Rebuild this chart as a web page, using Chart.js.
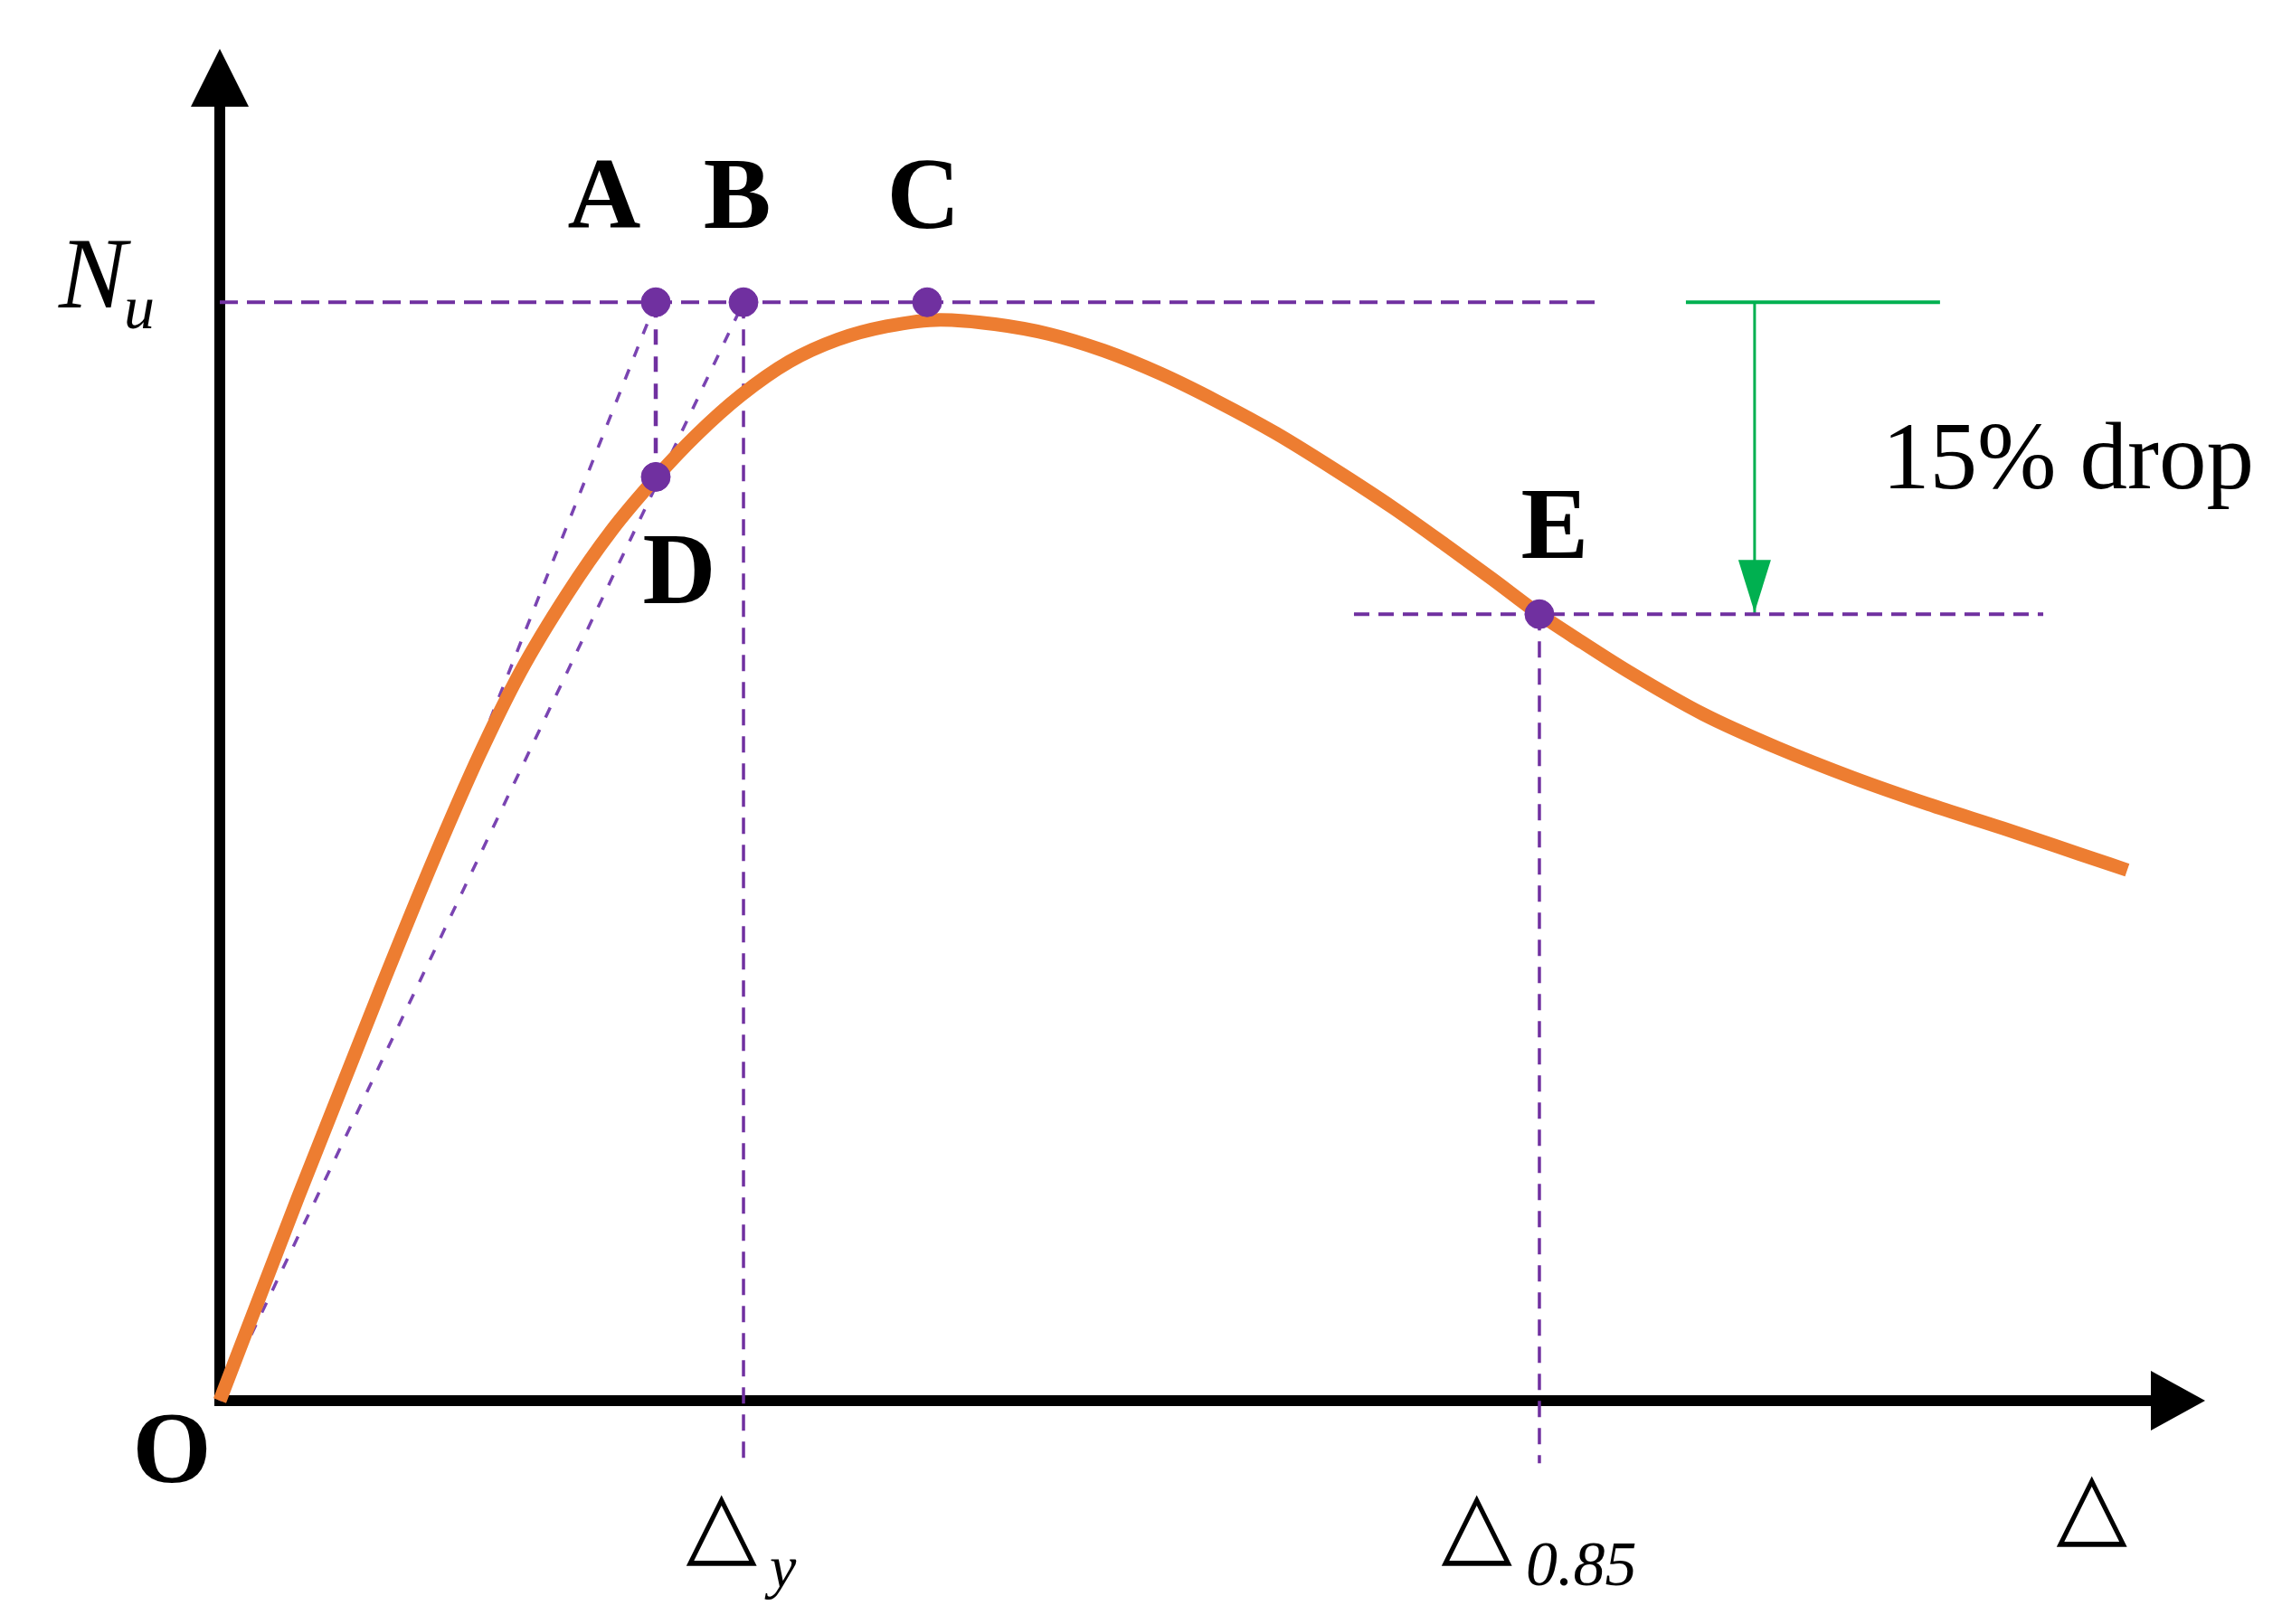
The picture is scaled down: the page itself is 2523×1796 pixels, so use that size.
<!DOCTYPE html>
<html>
<head>
<meta charset="utf-8">
<script src="https://cdn.jsdelivr.net/npm/chart.js@4.4.1/dist/chart.umd.min.js"></script>
<style>
  html, body { margin: 0; padding: 0; background: #fff; }
  #wrap { width: 2523px; height: 1796px; position: relative; }
</style>
</head>
<body>
<div id="wrap"><canvas id="chart"></canvas></div>
<script>
// ---- data (x = displacement, y = N / Nu) ----
const curveX = [0, 0.396, 0.806, 1.08, 1.308, 1.513, 1.749, 1.973, 2.196, 2.401, 2.624, 2.87, 3.112, 3.358,
  3.631, 3.904, 4.178, 4.451, 4.738, 5.021, 5.317, 5.613, 5.909, 6.182, 6.41, 6.647, 6.866, 7.093,
  7.472, 7.85, 8.228, 8.606, 8.984, 9.362, 9.608];
const curveY = [0, 0.186, 0.373, 0.494, 0.588, 0.663, 0.734, 0.792, 0.84, 0.879, 0.915, 0.946, 0.966, 0.978,
  0.984, 0.98, 0.971, 0.956, 0.935, 0.91, 0.881, 0.848, 0.813, 0.778, 0.748, 0.716, 0.69, 0.664,
  0.625, 0.594, 0.567, 0.543, 0.521, 0.498, 0.483];

const pointNames = ['A', 'B', 'C', 'D', 'E'];
const pointX = [2.196, 2.638, 3.563, 2.196, 6.647];
const pointY = [1, 1, 1, 0.841, 0.716];

const nuLevel = 1;          // Nu
const dropLevel = 0.716;    // level of point E
const deltaY = 2.638;       // Δy
const delta85 = 6.647;      // Δ0.85
const nuLineEnd = 6.929;
const dropLineX = [5.713, 9.185];
const greenBarX = [7.385, 8.665];
const greenArrowX = 7.731;
const belowAxis = -0.057;   // dashed verticals run a bit under the x axis
const xAxisEnd = 9.727;
const yAxisEnd = 1.178;

const PURPLE = '#7030A0';
const ORANGE = '#ED7D31';
const GREEN = '#00B050';

const pts = (xs, ys) => xs.map((v, i) => ({ x: v, y: ys[i] }));

function dashed(data, width, dash, color) {
  return {
    data, showLine: true, borderColor: color || PURPLE, borderWidth: width,
    borderDash: dash, pointRadius: 0, clip: false, order: 2
  };
}

const datasets = [
  dashed(pts([0, nuLineEnd], [nuLevel, nuLevel]), 4, [20, 10]),
  dashed(pts([0, pointX[0]], [0, nuLevel]), 3.5, [12, 15], '#7a44b2'),
  dashed(pts([0, pointX[1]], [0, nuLevel]), 3.5, [12, 15], '#7a44b2'),
  dashed(pts([pointX[0], pointX[3]], [nuLevel, pointY[3]]), 4.5, [17, 13]),
  dashed(pts([deltaY, deltaY], [nuLevel, belowAxis]), 3.5, [18, 12]),
  dashed(pts([delta85, delta85], [dropLevel, belowAxis]), 3.5, [18, 12]),
  dashed(pts(dropLineX, [dropLevel, dropLevel]), 4, [17, 10]),
  {
    data: pts(greenBarX, [nuLevel, nuLevel]), showLine: true, borderColor: GREEN,
    borderWidth: 4, pointRadius: 0, clip: false, order: 2
  },
  {
    data: pts([greenArrowX, greenArrowX], [nuLevel, dropLevel]), showLine: true, borderColor: GREEN,
    borderWidth: 3, pointRadius: 0, clip: false, order: 2
  },
  {
    data: pts(curveX, curveY), showLine: true, borderColor: ORANGE, borderWidth: 15,
    cubicInterpolationMode: 'monotone', pointRadius: 0, clip: false, order: 1
  },
  {
    data: pts(pointX, pointY), showLine: false, backgroundColor: PURPLE, borderColor: PURPLE,
    borderWidth: 1, pointRadius: 16, clip: false, order: 0
  }
];

function tri(ctx, a, b, c) {
  ctx.beginPath();
  ctx.moveTo(a[0], a[1]);
  ctx.lineTo(b[0], b[1]);
  ctx.lineTo(c[0], c[1]);
  ctx.closePath();
  ctx.fill();
}

// draw text so that its ink is centred on cx and its ink bottom sits at bottom
function inkCentered(ctx, text, cx, bottom) {
  const m = ctx.measureText(text);
  const w = m.actualBoundingBoxRight + m.actualBoundingBoxLeft;
  ctx.textAlign = 'left';
  ctx.fillText(text, cx - w / 2 + m.actualBoundingBoxLeft, bottom - m.actualBoundingBoxDescent);
}
// ink left edge at lx, on given baseline
function inkLeft(ctx, text, lx, base) {
  const m = ctx.measureText(text);
  ctx.textAlign = 'left';
  ctx.fillText(text, lx + m.actualBoundingBoxLeft, base);
}

const overlay = {
  id: 'overlay',
  afterDatasetsDraw(chart) {
    const { ctx, chartArea, scales: { x, y } } = chart;
    const X = v => x.getPixelForValue(v);
    const Y = v => y.getPixelForValue(v);
    const ox = X(0), oy = Y(0);
    ctx.save();

    // axis arrow heads
    ctx.fillStyle = '#000';
    tri(ctx, [ox, chartArea.top - 64], [ox - 32, chartArea.top], [ox + 32, chartArea.top]);
    tri(ctx, [chartArea.right + 60, oy], [chartArea.right, oy - 33], [chartArea.right, oy + 33]);

    // green drop arrow head
    ctx.fillStyle = GREEN;
    const gx = X(greenArrowX), gy = Y(dropLevel);
    tri(ctx, [gx, gy - 2], [gx - 18, gy - 60], [gx + 18, gy - 60]);

    ctx.fillStyle = '#000';
    ctx.textBaseline = 'alphabetic';

    // point letters
    ctx.font = 'bold 112px "Liberation Serif", "Times New Roman", serif';
    ctx.textAlign = 'center';
    const off = { A: [-57, -82], B: [-7, -82], C: [-4, -82], D: [26, 140], E: [17, -62] };
    pointNames.forEach((n, i) => {
      ctx.fillText(n, X(pointX[i]) + off[n][0], Y(pointY[i]) + off[n][1]);
    });

    // origin
    ctx.fillText('O', ox - 53, oy + 90);

    // Nu
    ctx.textAlign = 'left';
    ctx.font = 'italic 112px "Liberation Serif", "Times New Roman", serif';
    ctx.fillText('N', ox - 178, Y(nuLevel) + 6);
    ctx.font = 'italic 68px "Liberation Serif", "Times New Roman", serif';
    inkLeft(ctx, 'u', ox - 103, Y(nuLevel) + 29);

    // 15% drop
    ctx.font = '105px "Liberation Serif", "Times New Roman", serif';
    inkLeft(ctx, '15% drop', gx + 150, Y(nuLevel) + 206);

    // Δ labels
    ctx.font = '102px "DejaVu Sans", sans-serif';
    inkCentered(ctx, '△', X(deltaY) - 24, oy + 183);
    inkCentered(ctx, '△', X(delta85) - 69, oy + 183);
    inkCentered(ctx, '△', chartArea.right + 60 - 125, oy + 162);
    ctx.font = 'italic 66px "Liberation Serif", "Times New Roman", serif';
    inkLeft(ctx, 'y', X(deltaY) + 23, oy + 206);
    ctx.font = 'italic 70px "Liberation Serif", "Times New Roman", serif';
    inkLeft(ctx, '0.85', X(delta85) - 13, oy + 204);

    ctx.restore();
  }
};

new Chart(document.getElementById('chart'), {
  type: 'line',
  data: { datasets },
  options: {
    responsive: true,
    maintainAspectRatio: false,
    animation: false,
    events: [],
    layout: { padding: { left: 243, right: 145, top: 118, bottom: 247 } },
    plugins: { legend: { display: false }, tooltip: { enabled: false } },
    scales: {
      x: {
        type: 'linear', min: 0, max: xAxisEnd,
        grid: { display: false, drawTicks: false, tickLength: 0 },
        ticks: { display: false },
        border: { display: true, width: 12, color: '#000' }
      },
      y: {
        type: 'linear', min: 0, max: yAxisEnd,
        grid: { display: false, drawTicks: false, tickLength: 0 },
        ticks: { display: false },
        border: { display: true, width: 12, color: '#000' }
      }
    }
  },
  plugins: [overlay]
});
</script>
</body>
</html>
